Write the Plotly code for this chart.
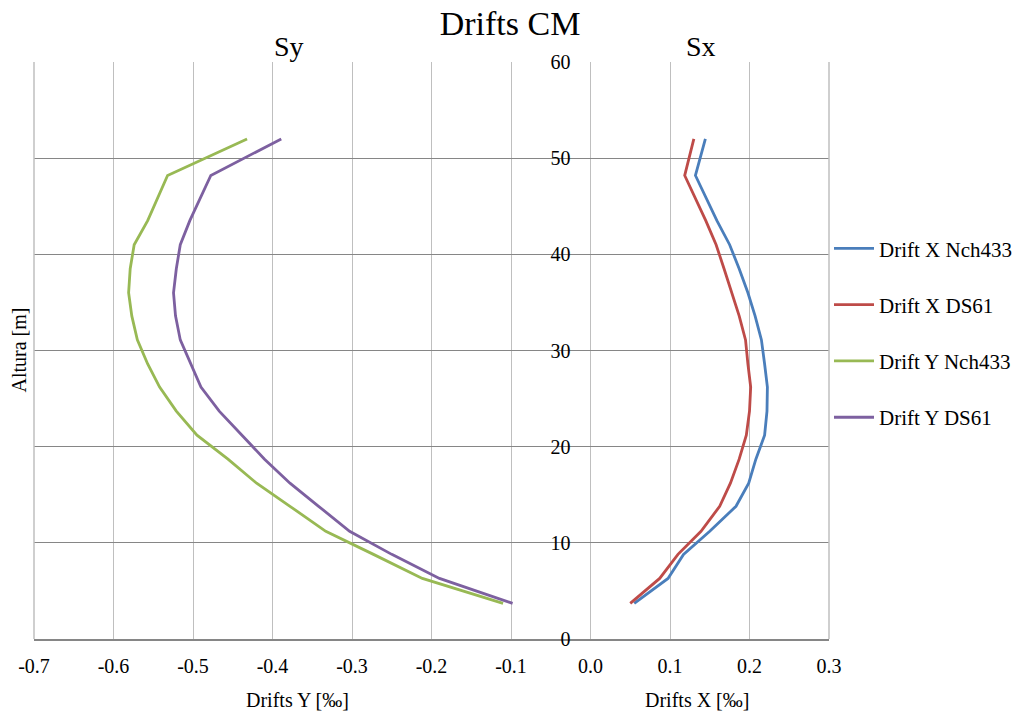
import plotly.graph_objects as go

# Heights (m)
altura = [3.7, 6.3, 8.8, 11.2, 13.8, 16.2, 18.7, 21.2, 23.7, 26.2, 28.6, 31.1,
          33.6, 36.0, 38.5, 41.0, 43.5, 48.2, 52.0]

drift_x_nch433 = [0.055, 0.0975, 0.117, 0.150, 0.183, 0.199, 0.208, 0.219, 0.222,
                  0.2225, 0.219, 0.215, 0.207, 0.198, 0.187, 0.175, 0.159, 0.132, 0.1445]
drift_x_ds61 = [0.050, 0.087, 0.110, 0.139, 0.1625, 0.176, 0.187, 0.196, 0.200,
                0.2015, 0.198, 0.195, 0.187, 0.178, 0.168, 0.158, 0.145, 0.1185, 0.130]
drift_y_nch433 = [-0.110, -0.2115, -0.273, -0.333, -0.378, -0.420, -0.456, -0.495, -0.521,
                  -0.542, -0.557, -0.570, -0.577, -0.581, -0.579, -0.574, -0.557, -0.532, -0.432]
drift_y_ds61 = [-0.098, -0.190, -0.250, -0.303, -0.342, -0.378, -0.410, -0.439, -0.467,
                -0.490, -0.503, -0.516, -0.522, -0.5245, -0.521, -0.516, -0.504, -0.4776, -0.389]

series_names = ["Drift X Nch433", "Drift X DS61", "Drift Y Nch433", "Drift Y DS61"]
series_vals = [drift_x_nch433, drift_x_ds61, drift_y_nch433, drift_y_ds61]
colors = ["#4A7EBB", "#BE4B48", "#98B954", "#7D60A0"]

x_ticks = [-0.7, -0.6, -0.5, -0.4, -0.3, -0.2, -0.1, 0.0, 0.1, 0.2, 0.3]
y_ticks = [0, 10, 20, 30, 40, 50, 60]

FONT = "Liberation Serif"

fig = go.Figure()
for name, vals, c in zip(series_names, series_vals, colors):
    fig.add_trace(go.Scatter(x=vals, y=altura, mode="lines", name=name,
                             legendgroup=name,
                             line=dict(color=c, width=2.8)))

fig.update_layout(
    width=1020, height=716,
    margin=dict(l=34, r=191, t=62, b=77, autoexpand=False),
    paper_bgcolor="white", plot_bgcolor="white",
    font=dict(family=FONT, color="#000000", size=20),
    title=dict(text="Drifts CM", x=0.5, xanchor="center", y=0.968, yanchor="middle",
               font=dict(family=FONT, size=34, color="#000000")),
    xaxis=dict(range=[-0.7, 0.3], tickvals=x_ticks, ticktext=[f"{v:.1f}" for v in x_ticks],
               showgrid=True, gridcolor="#BFBFBF", gridwidth=1.3,
               zeroline=False, showline=True, linecolor="#868686", linewidth=1.5,
               ticks="outside", ticklen=8, tickcolor="rgba(0,0,0,0)",
               tickfont=dict(family=FONT, size=20)),
    yaxis=dict(range=[0, 60], tickvals=y_ticks, anchor="free", position=0.7,
               showgrid=True, gridcolor="#868686", gridwidth=1.3,
               zeroline=False, showline=False,
               ticks="outside", ticklen=16, tickcolor="rgba(0,0,0,0)",
               tickfont=dict(family=FONT, size=20)),
    legend=dict(x=1.0, xanchor="left", y=0.53, yanchor="middle",
                traceorder="grouped", tracegroupgap=26,
                font=dict(family=FONT, size=21), itemwidth=40,
                bgcolor="rgba(0,0,0,0)"),
    showlegend=True,
)

# plot border
fig.add_shape(type="line", xref="paper", yref="paper", x0=0, x1=0, y0=0, y1=1,
              line=dict(color="#BFBFBF", width=1.5))
fig.add_shape(type="line", xref="paper", yref="paper", x0=1, x1=1, y0=0, y1=1,
              line=dict(color="#BFBFBF", width=1.5))

fig.add_annotation(text="Sy", xref="paper", yref="paper", x=0.321, xanchor="center", y=1.0,
                   yanchor="bottom", yshift=-2, showarrow=False, font=dict(family=FONT, size=28))
fig.add_annotation(text="Sx", xref="paper", yref="paper", x=0.839, xanchor="center", y=1.0,
                   yanchor="bottom", yshift=-2, showarrow=False, font=dict(family=FONT, size=28))
fig.add_annotation(text="Drifts Y [‰]", xref="paper", yref="paper", x=0.332, xanchor="center",
                   y=0, yanchor="middle", yshift=-61, showarrow=False,
                   font=dict(family=FONT, size=20))
fig.add_annotation(text="Drifts X [‰]", xref="paper", yref="paper", x=0.834, xanchor="center",
                   y=0, yanchor="middle", yshift=-61, showarrow=False,
                   font=dict(family=FONT, size=20))
fig.add_annotation(text="Altura [m]", xref="paper", yref="paper", x=0, xshift=-16, y=0.5,
                   xanchor="center", yanchor="middle", textangle=-90, showarrow=False,
                   font=dict(family=FONT, size=20))

fig.write_html("out.html")
